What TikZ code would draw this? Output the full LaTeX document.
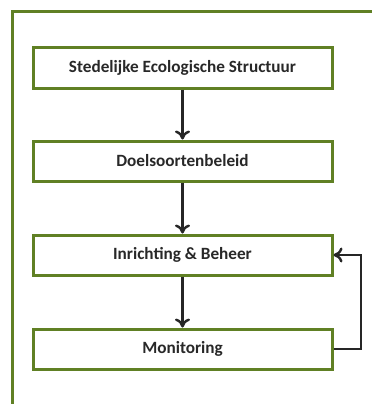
\documentclass[tikz,border=0pt]{standalone}
\usepackage{fontspec}
\setmainfont{Carlito}
\usetikzlibrary{arrows.meta}
\definecolor{frameg}{RGB}{96,128,36}
\definecolor{txt}{RGB}{40,40,40}
\begin{document}
\begin{tikzpicture}[x=1pt,y=-1pt,
  stepbox/.style={draw=frameg,line width=3pt,minimum width=299pt,minimum height=40pt,inner sep=0pt,
    font=\fontsize{17.2}{20}\selectfont\bfseries,text=txt,fill=white},
  flow/.style={draw=black!85,line width=2.6pt,-{To[length=9pt,width=15pt,line width=2.4pt]}}]
\useasboundingbox (0,0) rectangle (372,404);
\fill[white] (0,0) rectangle (372,404);
\draw[frameg,line width=3pt] (12,404) -- (12,12) -- (372,12);
\node[stepbox] (a) at (182.5,68) {Stedelijke Ecologische Structuur};
\node[stepbox] (b) at (182.5,161) {Doelsoortenbeleid};
\node[stepbox] (c) at (182.5,255) {Inrichting \& Beheer};
\node[stepbox] (d) at (182.5,349) {Monitoring};
\coordinate (r) at (361,0);
\draw[flow] (a) -- (b);
\draw[flow] (b) -- (c);
\draw[flow] (c) -- (d);
\draw[flow] (d.east) -- (d.east -| r) -- (c.east -| r) -- (c.east);
\end{tikzpicture}
\end{document}
